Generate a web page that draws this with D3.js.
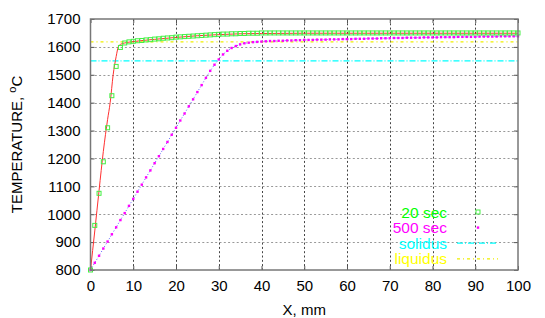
<!DOCTYPE html>
<meta charset="utf-8" />
<script src="https://d3js.org/d3.v7.min.js"></script>
<body style="margin:0;background:#fff">
<svg id="chart" width="545" height="318"></svg>
<script>
/* ── DATA ── */
const xTicks = [0,10,20,30,40,50,60,70,80,90,100];
const yTicks = [800,900,1000,1100,1200,1300,1400,1500,1600,1700];

// measurement positions, mm
const xPts = [0,1,2,3,4,5,6,7,8,9,10,11,12,13,14,15,16,17,18,19,20,21,22,23,24,25,26,27,28,29,30,
  31,32,33,34,35,36,37,38,39,40,41,42,43,44,45,46,47,48,49,50,51,52,53,54,55,56,57,58,59,60,
  61,62,63,64,65,66,67,68,69,70,71,72,73,74,75,76,77,78,79,80,81,82,83,84,85,86,87,88,89,90,
  91,92,93,94,95,96,97,98,99,100];

// 20 sec (squares)
const t20 = [800,960,1075,1188,1310,1425,1530,1598,1614,1618,1620,1622,1623,1625,1626,1628,1629,1631,1632,1633,1635,
  1636,1637,1638,1639,1640,1641,1642,1643,1644,1645,1646,1646,1647,1647,1648,1648,1649,1649,1649,1650,
  1650,1650,1650,1650,1650,1650,1650,1650,1650,1650,1650,1650,1650,1650,1650,1650,1650,1650,1650,1650,
  1650,1650,1650,1650,1650,1650,1650,1650,1650,1650,1650,1650,1650,1650,1650,1650,1650,1650,1650,1650,
  1650,1650,1650,1650,1650,1650,1650,1650,1650,1650,1650,1650,1650,1650,1650,1650,1650,1650,1650,1650];

// 500 sec (dots + dotted line)
const t500 = [800,826,851,877,902,928,953,979,1004,1030,1055,1081,1106,1132,1157,1183,1208,1234,1259,1285,1310,
  1336,1361,1387,1412,1438,1463,1489,1514,1536,1555,1573,1586,1596,1603,1609,1613,1615,1617,1618,1619,
  1620,1621,1621,1622,1622,1623,1623,1624,1624,1625,1625,1625,1626,1626,1626,1627,1627,1627,1628,1628,
  1628,1629,1629,1629,1630,1630,1630,1631,1631,1631,1632,1632,1632,1633,1633,1633,1633,1634,1634,1634,
  1634,1635,1635,1635,1635,1636,1636,1636,1636,1636,1637,1637,1637,1637,1637,1638,1638,1638,1638,1638];

// 20 sec model curve (red)
const xLine20 = [0,1,2,3,4,4.6,5.3,6,6.5,7,8,10,15,20,25,30,35,40,50,100];
const tLine20 = [800,940,1085,1225,1340,1400,1500,1565,1600,1609,1614,1619,1627,1634,1640,1644,1647,1648,1649,1649];

const solidus = 1550, liquidus = 1618;

const legendItems = [
  {name:"20 sec",   color:"#00ff00"},
  {name:"500 sec",  color:"#ff00ff"},
  {name:"solidus",  color:"#00ffff"},
  {name:"liquidus", color:"#ffff00"}
];

/* ── LAYOUT ── */
const L = 90.5, R = 518, T = 19, B = 270;
const font = "'Liberation Sans', Arial, sans-serif";
const fs = "15px";
const svg = d3.select("#chart").style("font-family", font);

const x = d3.scaleLinear().domain([0,100]).range([L,R]);
const y = d3.scaleLinear().domain([800,1700]).range([B,T]);

/* grid */
const grid = svg.append("g");
grid.selectAll("line.h").data(yTicks.slice(1,-1)).join("line")
  .attr("x1",L).attr("x2",R).attr("y1",d=>Math.round(y(d))+.5).attr("y2",d=>Math.round(y(d))+.5)
  .attr("stroke","#999").attr("stroke-dasharray","2,2.3");
grid.selectAll("line.v").data(xTicks.slice(1,-1)).join("line")
  .attr("y1",T).attr("y2",B).attr("x1",d=>Math.round(x(d))+.5).attr("x2",d=>Math.round(x(d))+.5)
  .attr("stroke","#444").attr("stroke-dasharray","2,2.3");

/* axes with inward ticks (mirrored) */
const tk = 4, fmt = d3.format("d");
const axB = d3.axisBottom(x).tickValues(xTicks).tickSize(-tk).tickPadding(10).tickFormat(fmt);
const axT = d3.axisTop(x).tickValues(xTicks).tickSize(-tk).tickFormat("");
const axL = d3.axisLeft(y).tickValues(yTicks).tickSize(-tk).tickPadding(10).tickFormat(fmt);
const axR = d3.axisRight(y).tickValues(yTicks).tickSize(-tk).tickFormat("");
[[axB,`translate(0,${B})`],[axT,`translate(0,${T})`],[axL,`translate(${L},0)`],[axR,`translate(${R},0)`]]
  .forEach(([a,tr])=>{
    const g = svg.append("g").attr("transform",tr).call(a);
    g.select(".domain").remove();
    g.selectAll(".tick line").attr("stroke","#555");
    g.selectAll("text").attr("font-size",fs).attr("font-family",font).attr("fill","#000");
  });

/* horizontal reference lines */
svg.append("line").attr("x1",L).attr("x2",R).attr("y1",y(solidus)).attr("y2",y(solidus))
  .attr("stroke","#00ffff").attr("stroke-width",1.2).attr("stroke-dasharray","6,2,1,2");
svg.append("line").attr("x1",L).attr("x2",R).attr("y1",y(liquidus)).attr("y2",y(liquidus))
  .attr("stroke","#eeee00").attr("stroke-width",1.2).attr("stroke-dasharray","3,3,1,3");

/* 500 sec dotted line */
const line = d3.line().x(d=>x(d[0])).y(d=>y(d[1]));
svg.append("path").datum(d3.zip(xPts,t500)).attr("d",line)
  .attr("fill","none").attr("stroke","#6060ff").attr("stroke-dasharray","1,2");

/* 20 sec red line */
svg.append("path").datum(d3.zip(xLine20,tLine20)).attr("d",line.curve(d3.curveMonotoneX))
  .attr("fill","none").attr("stroke","#ff3030").attr("stroke-width",1);

/* 500 sec points */
svg.append("g").selectAll("rect").data(d3.zip(xPts,t500)).join("rect")
  .attr("x",d=>x(d[0])-1.2).attr("y",d=>y(d[1])-1.2).attr("width",2.4).attr("height",2.4)
  .attr("fill","#ff00ff");

/* 20 sec squares */
svg.append("g").selectAll("rect").data(d3.zip(xPts,t20)).join("rect")
  .attr("x",d=>x(d[0])-2).attr("y",d=>y(d[1])-2).attr("width",4).attr("height",4)
  .attr("fill","none").attr("stroke","#44ee44").attr("stroke-width",1);

/* border */
svg.append("rect").attr("x",L).attr("y",T).attr("width",R-L).attr("height",B-T)
  .attr("fill","none").attr("stroke","#777").attr("stroke-width",1.5);

/* axis titles */
svg.append("text").attr("x",(L+R)/2).attr("y",315).attr("text-anchor","middle")
  .attr("font-size",fs).text("X, mm");
svg.append("text").attr("transform",`translate(22,${(T+B)/2}) rotate(-90)`).attr("text-anchor","middle")
  .attr("font-size",fs)
  .call(t=>{ t.append("tspan").text("TEMPERATURE, ");
             t.append("tspan").attr("font-size","11px").attr("dy","-6").text("o");
             t.append("tspan").attr("dy","6").text("C"); });

/* legend */
const lg = svg.append("g").selectAll("g").data(legendItems).join("g")
  .attr("transform",(d,i)=>`translate(0,${212 + i*15.6})`);
lg.append("text").attr("x",447).attr("y",5.5).attr("text-anchor","end")
  .attr("font-size","15.5px").attr("fill",d=>d.color).text(d=>d.name);
lg.filter((d,i)=>i===0).append("rect").attr("x",476).attr("y",-2).attr("width",4).attr("height",4)
  .attr("fill","none").attr("stroke","#44ee44");
lg.filter((d,i)=>i===1).append("rect").attr("x",476.8).attr("y",-1.2).attr("width",2.4).attr("height",2.4)
  .attr("fill","#ff00ff");
lg.filter((d,i)=>i===2).append("line").attr("x1",457).attr("x2",498)
  .attr("stroke","#00ffff").attr("stroke-width",1.2).attr("stroke-dasharray","6,2,1,2");
lg.filter((d,i)=>i===3).append("line").attr("x1",457).attr("x2",498)
  .attr("stroke","#eeee00").attr("stroke-width",1.2).attr("stroke-dasharray","3,3,1,3");
</script>
</body>
